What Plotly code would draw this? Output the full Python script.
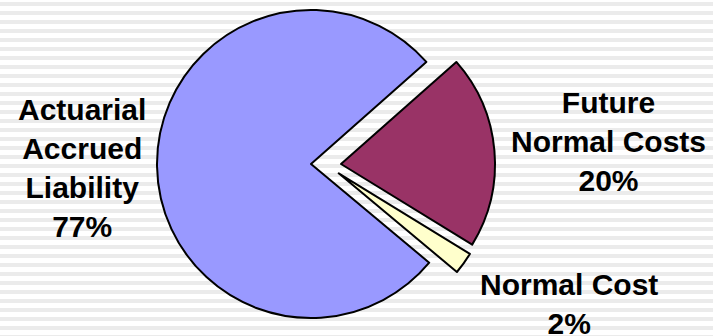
import plotly.graph_objects as go

# ---- data ----
labels = ["Future Normal Costs", "Normal Cost", "Actuarial Accrued Liability"]
values = [20.3, 2.3, 77.4]
label_lines = [["Future", "Normal Costs"], ["Normal Cost"], ["Actuarial", "Accrued", "Liability"]]
colors = ["#993366", "#FFFFCC", "#9999FF"]

W, H = 713, 336
total = sum(values)
pcts = [f"{round(v / total * 100)}%" for v in values]

# slice centres (pixel) for exploded layout, radius in px
R = 154
centres = {2: (311, 164), 0: (341, 164), 1: (338.7, 173.3)}
draw_order = [2, 0, 1]

fig = go.Figure()
for idx in draw_order:
    cx, cy = centres[idx]
    dom_x = [(cx - R) / W, (cx + R) / W]
    dom_y = [1 - (cy + R) / H, 1 - (cy - R) / H]
    cols = [colors[i] if i == idx else "rgba(0,0,0,0)" for i in range(len(values))]
    lw = [2 if i == idx else 0 for i in range(len(values))]
    fig.add_trace(go.Pie(
        labels=labels, values=values, sort=False, direction="clockwise",
        rotation=48.5, textinfo="none", hoverinfo="skip", showlegend=False,
        marker=dict(colors=cols, line=dict(color="black", width=lw)),
        domain=dict(x=dom_x, y=dom_y),
    ))

# background stripes
shapes = []
period, band = 9, 4
y = 2
while y < H:
    shapes.append(dict(type="rect", xref="paper", yref="paper", layer="below",
                       x0=0, x1=1, y0=1 - (y + band) / H, y1=1 - y / H,
                       fillcolor="#ebebeb", line=dict(width=0)))
    y += period

# labels
label_pos = {2: (82, 167.5), 0: (608, 141), 1: (569, 304)}
annotations = []
for idx, (px, py) in label_pos.items():
    txt = "<br>".join(f"<b>{s}</b>" for s in label_lines[idx] + [pcts[idx]])
    annotations.append(dict(x=px / W, y=1 - py / H, xref="paper", yref="paper",
                            text=txt, showarrow=False, xanchor="center", yanchor="middle",
                            font=dict(family="Liberation Sans, Arial", size=30, color="black")))

fig.update_layout(
    width=W, height=H, margin=dict(l=0, r=0, t=0, b=0),
    paper_bgcolor="white", plot_bgcolor="white",
    shapes=shapes, annotations=annotations,
)
fig.write_html("out.html")
